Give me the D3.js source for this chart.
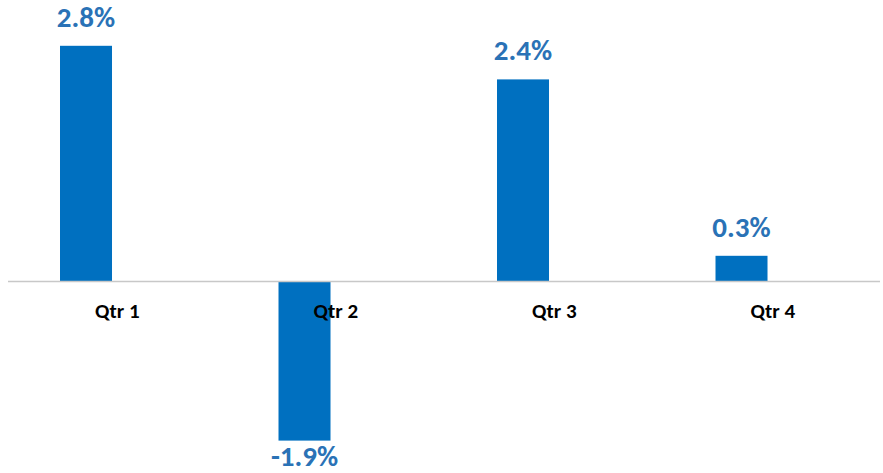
<!DOCTYPE html>
<html>
<head>
<meta charset="utf-8">
<script src="https://cdn.jsdelivr.net/npm/d3@7"></script>
<style>
  html, body { margin: 0; padding: 0; background: #fff; }
  svg { display: block; }
</style>
</head>
<body>
<svg id="chart" width="883" height="473"></svg>
<script>
// Quarterly growth, percent
const quarters = ["Qtr 1", "Qtr 2", "Qtr 3", "Qtr 4"];
const growth = [2.8, -1.9, 2.4, 0.3];
const valueLabels = ["2.8%", "-1.9%", "2.4%", "0.3%"];

const W = 883, H = 473;
const svg = d3.select("#chart");

const x = d3.scaleBand().domain(quarters).range([8, 882]).padding(0);
const y = d3.scaleLinear().domain([-2, 3]).range([449, 29]);

const barColor = "#0070c0";
const labelColor = "#2a72b6";
const labelFont = "Calibri, Carlito, Lato, 'Open Sans', sans-serif";

// bar occupies the left-middle slot of each category band
const barOffset = 0.238, barFrac = 0.238;

const data = quarters.map((q, i) => ({ q, v: growth[i], label: valueLabels[i] }));

svg.append("g").selectAll("rect").data(data).join("rect")
  .attr("x", d => x(d.q) + x.bandwidth() * barOffset)
  .attr("width", x.bandwidth() * barFrac)
  .attr("y", d => Math.min(y(d.v), y(0)))
  .attr("height", d => Math.abs(y(d.v) - y(0)))
  .attr("fill", barColor);

// zero line
svg.append("line")
  .attr("x1", x.range()[0]).attr("x2", x.range()[1] - 2)
  .attr("y1", y(0) + 0.5).attr("y2", y(0) + 0.5)
  .attr("stroke", "#c8c8c8").attr("stroke-width", 1.5);

// category labels
const xAxis = d3.axisBottom(x).tickSize(0).tickPadding(0);
const gx = svg.append("g").attr("transform", `translate(0,${y(0)})`).call(xAxis);
gx.select(".domain").remove();
gx.selectAll("text")
  .attr("dy", null)
  .attr("y", 37)
  .attr("font-family", labelFont)
  .attr("font-size", 21)
  .attr("font-weight", "bold")
  .attr("fill", "#000");

// value labels
svg.append("g").selectAll("text").data(data).join("text")
  .attr("x", d => x(d.q) + x.bandwidth() * (barOffset + barFrac / 2))
  .attr("y", d => d.v >= 0 ? y(d.v) - 19 : y(d.v) + 25)
  .attr("text-anchor", "middle")
  .attr("font-family", labelFont)
  .attr("font-size", 29)
  .attr("font-weight", "bold")
  .attr("fill", labelColor)
  .text(d => d.label);
</script>
</body>
</html>
